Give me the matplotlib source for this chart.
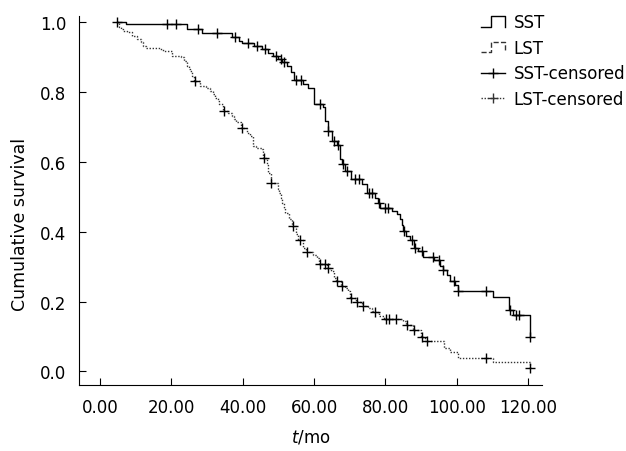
import numpy as np
import matplotlib.pyplot as plt
from matplotlib.legend_handler import HandlerBase
from matplotlib.lines import Line2D

# SST group: times of drops and survival after each drop
sst_start = 4.7
sst_t = [7.3, 24.5, 28.6, 36.9, 38.9, 39.9, 43.3, 45.4, 47.2, 48.5, 50.0, 51.0,
         52.3, 53.6, 54.4, 57.0, 58.3, 60.0, 62.6, 63.1, 63.9, 64.9, 66.5, 67.3,
         67.8, 68.6, 70.3, 73.4, 74.8, 77.2, 77.9, 78.5, 81.9, 83.2, 84.1, 84.7,
         85.0, 85.8, 86.9, 88.1, 89.2, 90.5, 93.5, 95.2, 96.1, 97.3, 98.2, 99.5,
         100.4, 110.2, 114.5, 115.8, 120.4]
sst_s = [0.994, 0.979, 0.968, 0.957, 0.946, 0.939, 0.931, 0.923, 0.912, 0.902,
         0.893, 0.885, 0.874, 0.855, 0.833, 0.822, 0.812, 0.764, 0.755, 0.716,
         0.688, 0.659, 0.647, 0.607, 0.592, 0.573, 0.549, 0.535, 0.511, 0.497,
         0.483, 0.468, 0.458, 0.449, 0.435, 0.418, 0.401, 0.387, 0.377, 0.354,
         0.344, 0.328, 0.318, 0.303, 0.291, 0.275, 0.258, 0.248, 0.229, 0.213,
         0.177, 0.162, 0.100]
sst_cens = [4.7, 18.9, 21.4, 27.4, 32.8, 37.9, 41.5, 44.0, 46.3, 49.3, 50.6,
            51.5, 54.9, 56.2, 61.8, 63.9, 65.6, 66.7, 68.0, 69.1, 71.6, 72.5,
            75.5, 76.3, 78.1, 79.8, 80.6, 85.2, 87.5, 88.3, 90.2, 93.3, 95.0,
            96.1, 99.1, 100.4, 108.1, 115.0, 116.7, 117.3, 120.4]

# LST group
lst_start = 4.7
lst_t = [5.4, 5.8, 6.4, 7.7, 9.0, 10.3, 11.6, 12.0, 12.9, 16.7, 17.6, 20.2,
         22.7, 23.6, 24.5, 24.9, 25.3, 25.7, 26.4, 27.9, 29.6, 30.9, 31.7, 32.2,
         33.0, 33.4, 34.5, 36.0, 36.9, 37.7, 38.2, 39.5, 41.2, 42.0, 42.9, 43.8,
         45.5, 45.7, 46.7, 47.0, 47.8, 49.8, 50.2, 50.6, 51.0, 51.5, 51.9, 53.0,
         53.8, 54.9, 55.5, 57.0, 57.8, 59.6, 60.9, 61.5, 63.5, 64.8, 65.6, 66.2,
         67.5, 68.6, 69.5, 70.1, 71.8, 73.5, 75.1, 76.3, 77.0, 78.1, 79.5, 84.9,
         85.8, 87.6, 89.9, 91.2, 96.3, 98.2, 100.4, 110.2, 120.4]
lst_s = [0.985, 0.979, 0.974, 0.970, 0.960, 0.950, 0.941, 0.931, 0.926, 0.922,
         0.917, 0.903, 0.898, 0.888, 0.874, 0.864, 0.860, 0.845, 0.831, 0.817,
         0.812, 0.802, 0.793, 0.783, 0.774, 0.764, 0.745, 0.740, 0.731, 0.721,
         0.712, 0.697, 0.683, 0.674, 0.645, 0.640, 0.635, 0.611, 0.590, 0.568,
         0.540, 0.521, 0.509, 0.497, 0.483, 0.468, 0.454, 0.435, 0.417, 0.392,
         0.377, 0.354, 0.341, 0.334, 0.325, 0.306, 0.296, 0.287, 0.268, 0.258,
         0.244, 0.239, 0.229, 0.210, 0.200, 0.188, 0.182, 0.174, 0.169, 0.158,
         0.150, 0.143, 0.134, 0.118, 0.100, 0.086, 0.067, 0.057, 0.038, 0.026,
         0.010]
lst_cens = [26.6, 34.7, 39.9, 45.9, 48.0, 54.1, 56.0, 58.1, 61.8, 63.1, 63.9,
            66.5, 67.8, 70.3, 72.1, 73.8, 77.2, 80.2, 81.1, 83.0, 86.0, 87.9,
            90.2, 91.7, 108.1, 120.4]


def step_curve(start, t, s):
    x = np.r_[start, t]
    y = np.r_[1.0, s]
    return x, y


def surv_at(start, t, s, tc):
    x, y = step_curve(start, t, s)
    idx = np.searchsorted(x, tc, side='right') - 1
    return y[np.clip(idx, 0, len(y) - 1)]


class StepHandler(HandlerBase):
    def create_artists(self, legend, orig_handle, xdescent, ydescent,
                       width, height, fontsize, trans):
        x0 = -xdescent
        w = width
        lo = -ydescent + 0.05 * height
        hi = -ydescent + 0.95 * height
        xs = [x0, x0 + 0.4 * w, x0 + 0.4 * w, x0 + w, x0 + w]
        ys = [lo, lo, hi, hi, lo]
        ln = Line2D(xs, ys, color=orig_handle.get_color(),
                    linestyle=orig_handle.get_linestyle(),
                    linewidth=orig_handle.get_linewidth(), transform=trans)
        return [ln]


plt.rcParams['font.family'] = ['DejaVu Sans']
plt.rcParams['font.size'] = 12

fig = plt.figure(figsize=(6.26, 4.52), dpi=100)
ax = fig.add_axes([0.126, 0.145, 0.74, 0.817])

dot = (0, (1, 1.2))

x, y = step_curve(sst_start, sst_t, sst_s)
ax.step(x, y, where='post', color='black', lw=1.0)
x, y = step_curve(lst_start, lst_t, lst_s)
ax.step(x, y, where='post', color='#333333', lw=1.0, linestyle=dot)

ax.plot(sst_cens, surv_at(sst_start, sst_t, sst_s, sst_cens), '+',
        color='black', ms=6.5, mew=1.0)
ax.plot(lst_cens, surv_at(lst_start, lst_t, lst_s, lst_cens), '+',
        color='black', ms=6.5, mew=1.0)

ax.set_xlim(-5.9, 123.9)
ax.set_ylim(-0.04, 1.016)
ax.set_xticks([0, 20, 40, 60, 80, 100, 120])
ax.set_xticklabels(['%.2f' % v for v in [0, 20, 40, 60, 80, 100, 120]])
ax.set_yticks([0, 0.2, 0.4, 0.6, 0.8, 1.0])
ax.set_yticklabels(['%.1f' % v for v in [0, 0.2, 0.4, 0.6, 0.8, 1.0]])
ax.tick_params(direction='in', length=5, width=0.8, labelsize=12, pad=9)
for side in ['top', 'right']:
    ax.spines[side].set_visible(False)
for side in ['left', 'bottom']:
    ax.spines[side].set_linewidth(0.8)

ax.set_xlabel(r'$t$/mo', fontsize=12, labelpad=8)
ax.set_ylabel('Cumulative survival', fontsize=12.5)
ax.yaxis.set_label_coords(-0.108, 0.44)

h_sst = Line2D([], [], color='black', lw=1.0)
h_lst = Line2D([], [], color='#333333', lw=1.0, linestyle=dot)
h_sc = Line2D([], [], color='black', lw=1.0, marker='+', ms=6.5)
h_lc = Line2D([], [], color='#333333', lw=1.0, linestyle=dot, marker='+', ms=6.5)
fig.legend([h_sst, h_lst, h_sc, h_lc],
           ['SST', 'LST', 'SST-censored', 'LST-censored'],
           handler_map={h_sst: StepHandler(), h_lst: StepHandler()},
           loc='upper left', bbox_to_anchor=(0.758, 0.983), frameon=False,
           fontsize=12, handlelength=1.4, handletextpad=0.55,
           labelspacing=0.45, borderaxespad=0)

fig.savefig('out.png', dpi=100)
